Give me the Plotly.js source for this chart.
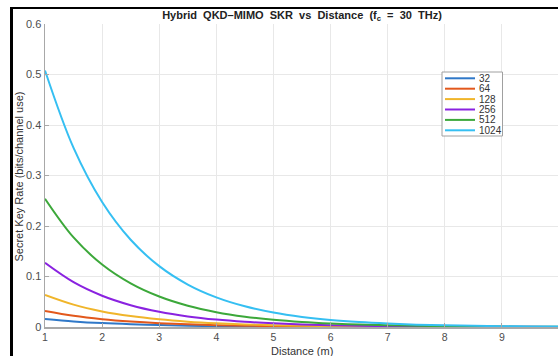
<!DOCTYPE html>
<html>
<head>
<meta charset="utf-8">
<script src="https://cdn.plot.ly/plotly-3.0.1.min.js"></script>
<style>
  html, body { margin:0; padding:0; background:#fff; overflow:hidden; width:558px; height:356px; }
  #chart { position:absolute; left:0; top:0; width:562px; height:356px; }
  #frameTop { position:absolute; left:10px; top:7px; width:548px; height:2px; background:#000; pointer-events:none; z-index:10; }
  #frameLeft { position:absolute; left:10px; top:7px; width:3px; height:349px; background:#000; pointer-events:none; z-index:10; }
</style>
</head>
<body>
<div id="chart"></div>
<div id="frameTop"></div>
<div id="frameLeft"></div>
<script>
// ---- data ----
const distance = [1, 1.5, 2, 2.5, 3, 3.5, 4, 4.5, 5, 5.5, 6, 6.5, 7, 7.5, 8, 8.5, 9, 9.5, 10];
const seriesNames = ['32', '64', '128', '256', '512', '1024'];
const skr32   = [0.0159, 0.0111, 0.0077, 0.0054, 0.0038, 0.0026, 0.0018, 0.0013, 0.0009, 0.0006, 0.0004, 0.0003, 0.0002, 0.0001, 0.0001, 0.0001, 0.0000, 0.0000, 0.0000];
const skr64   = [0.0318, 0.0222, 0.0155, 0.0108, 0.0075, 0.0053, 0.0037, 0.0026, 0.0018, 0.0013, 0.0009, 0.0006, 0.0004, 0.0003, 0.0002, 0.0001, 0.0001, 0.0001, 0.0000];
const skr128  = [0.0635, 0.0443, 0.0309, 0.0216, 0.0151, 0.0105, 0.0073, 0.0051, 0.0036, 0.0025, 0.0017, 0.0012, 0.0009, 0.0006, 0.0004, 0.0003, 0.0002, 0.0001, 0.0001];
const skr256  = [0.127, 0.0887, 0.0619, 0.0432, 0.0301, 0.0210, 0.0147, 0.0103, 0.0072, 0.0050, 0.0035, 0.0024, 0.0017, 0.0012, 0.0008, 0.0006, 0.0004, 0.0003, 0.0002];
const skr512  = [0.254, 0.1773, 0.1237, 0.0864, 0.0603, 0.0421, 0.0294, 0.0205, 0.0143, 0.0100, 0.0070, 0.0049, 0.0034, 0.0024, 0.0017, 0.0012, 0.0008, 0.0006, 0.0004];
const skr1024 = [0.508, 0.3546, 0.2474, 0.1727, 0.1205, 0.0841, 0.0587, 0.0410, 0.0286, 0.0200, 0.0139, 0.0097, 0.0068, 0.0047, 0.0033, 0.0023, 0.0016, 0.0011, 0.0008];
const xTicks = [1, 2, 3, 4, 5, 6, 7, 8, 9, 10];
const yTicks = [0, 0.1, 0.2, 0.3, 0.4, 0.5, 0.6];
const yTickLabels = ['0', '0.1', '0.2', '0.3', '0.4', '0.5', '0.6'];
const yTitle = 'Secret Key Rate (bits/channel use)';
const xTitle = 'Distance (m)';

// ---- styles ----
const colors = ['#2f78c8', '#e2581c', '#f0b52a', '#8a22e0', '#3ca83a', '#35bff2'];
const allSeries = [skr32, skr64, skr128, skr256, skr512, skr1024];
const FONT = 'Arial, Liberation Sans, sans-serif';

const traces = allSeries.map((ys, i) => ({
  x: distance, y: ys, type: 'scatter', mode: 'lines', name: seriesNames[i],
  line: { color: colors[i], width: 2, shape: 'spline', smoothing: 1 },
  showlegend: false, hoverinfo: 'skip'
}));

// custom compact legend (paper coords computed from plot-area pixels)
const L = 45, W = 514, T = 24, H = 303;
const px2x = p => (p - L) / W;
const py2y = p => (T + H - p) / H;
const shapes = [{
  type: 'rect', xref: 'paper', yref: 'paper',
  x0: px2x(442), x1: px2x(502.5), y0: py2y(136), y1: py2y(72),
  line: { color: '#a0a0a0', width: 1 }, fillcolor: '#ffffff', layer: 'above'
}];
const annotations = [];
seriesNames.forEach((n, i) => {
  const py = 78.3 + i * 10.4;
  shapes.push({
    type: 'line', xref: 'paper', yref: 'paper',
    x0: px2x(445), x1: px2x(475), y0: py2y(py), y1: py2y(py),
    line: { color: colors[i], width: 2 }, layer: 'above'
  });
  annotations.push({
    xref: 'paper', yref: 'paper', x: px2x(477), y: py2y(py),
    xanchor: 'left', yanchor: 'middle', text: n, showarrow: false,
    font: { family: FONT, size: 10, color: '#333' }
  });
});
// y-axis title
annotations.push({
  xref: 'paper', yref: 'paper', x: px2x(18.5), y: py2y(177),
  xanchor: 'center', yanchor: 'middle', textangle: -90, text: yTitle, showarrow: false,
  font: { family: FONT, size: 11, color: '#333' }
});
// x-axis title
annotations.push({
  xref: 'paper', yref: 'paper', x: px2x(302), y: py2y(350.5),
  xanchor: 'center', yanchor: 'middle', text: xTitle, showarrow: false,
  font: { family: FONT, size: 11, color: '#333' }
});

const sp = '\u00a0\u00a0';
const layout = {
  width: 562, height: 356,
  margin: { l: L, r: 562 - L - W, t: T, b: 356 - T - H },
  paper_bgcolor: '#ffffff', plot_bgcolor: '#ffffff',
  font: { family: FONT, size: 11, color: '#4d4d4d' },
  title: {
    text: '<b>Hybrid' + sp + 'QKD–MIMO' + sp + 'SKR' + sp + 'vs' + sp + 'Distance' + sp + '(f<sub>c</sub>' + sp + '=' + sp + '30' + sp + 'THz)</b>',
    font: { family: FONT, size: 11, color: '#222' },
    x: (L + W / 2) / 562, xanchor: 'center', xref: 'container',
    y: 1 - 15 / 356, yanchor: 'middle', yref: 'container'
  },
  xaxis: {
    range: [1, 10], tickvals: xTicks, ticktext: xTicks.map(String),
    showgrid: true, gridcolor: '#e8e8e8', gridwidth: 1,
    showline: true, linecolor: '#a8a8a8', linewidth: 1.5, zeroline: false,
    ticks: 'inside', ticklen: 4, tickcolor: '#a8a8a8',
    tickfont: { size: 10.5, color: '#4d4d4d' },
    automargin: false
  },
  yaxis: {
    range: [0, 0.6], tickvals: yTicks, ticktext: yTickLabels,
    showgrid: true, gridcolor: '#e8e8e8', gridwidth: 1,
    showline: true, linecolor: '#a8a8a8', linewidth: 1.5, zeroline: false,
    ticks: 'inside', ticklen: 4, tickcolor: '#a8a8a8',
    tickfont: { size: 11, color: '#4d4d4d' },
    automargin: false
  },
  shapes: shapes,
  annotations: annotations,
  showlegend: false
};

Plotly.newPlot('chart', traces, layout, { displayModeBar: false, staticPlot: true });
</script>
</body>
</html>
